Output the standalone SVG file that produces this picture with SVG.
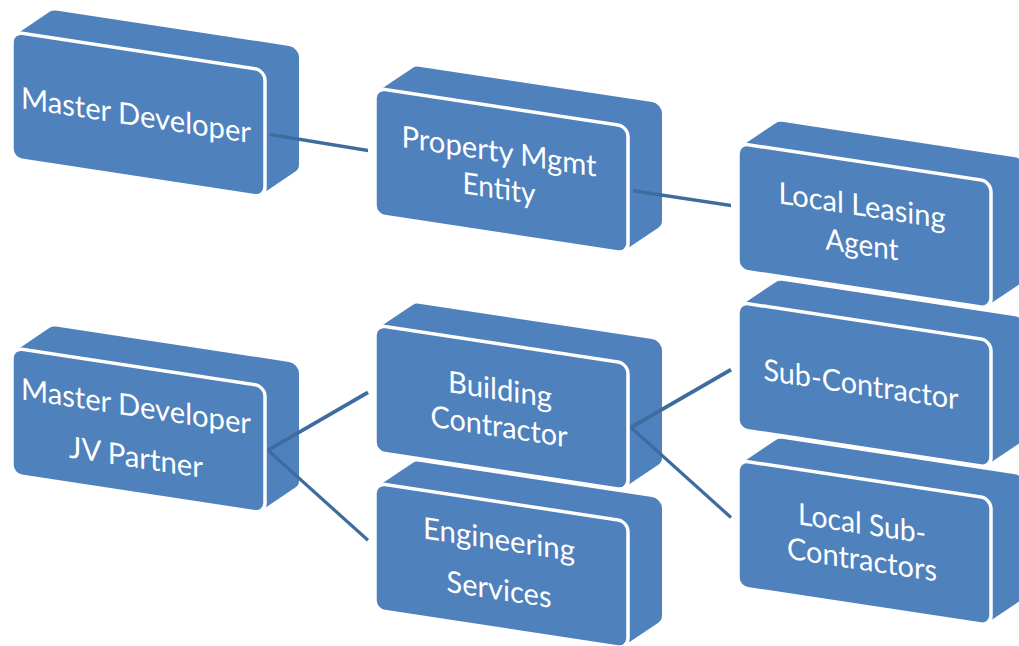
<svg xmlns="http://www.w3.org/2000/svg" xmlns:xlink="http://www.w3.org/1999/xlink" width="1019" height="646" viewBox="0 0 1019 646">
  <style>
    .hull { fill: #4F81BD; stroke: #4F81BD; stroke-width: 20; stroke-linejoin: round; }
    .face { fill: #4F81BD; stroke: #FFFFFF; stroke-width: 3.5; }
    .lbl { fill: #FFFFFF; font-family: Lato, "Open Sans", "Liberation Sans", sans-serif; font-size: 30px; text-anchor: middle; }
    .conn { stroke: #3F6C9E; stroke-width: 3.5; fill: none; }
  </style>
  <defs>
    <!-- extruded block: rounded back hull plus outlined front face -->
    <g id="block">
      <polygon class="hull" points="10,10 44,-18 277,-18 277,89 243,117 10,117"/>
      <rect class="face" x="0" y="0" width="253" height="127" rx="10" ry="10"/>
    </g>
  </defs>
  <rect width="1019" height="646" fill="#FFFFFF"/>
  <!-- whole chart sits on one slanted plane -->
  <g transform="matrix(1,0.152,0,1,0,0)">
    <g id="nodes">
      <g id="n-master-developer" transform="translate(12,30)">
        <use xlink:href="#block"/>
        <text class="lbl" x="124" y="75" textLength="230" lengthAdjust="spacingAndGlyphs">Master Developer</text>
      </g>
      <g id="n-property-mgmt" transform="translate(375,31)">
        <use xlink:href="#block"/>
        <text class="lbl" x="124" y="55" textLength="195" lengthAdjust="spacingAndGlyphs">Property Mgmt</text>
        <text class="lbl" x="124" y="92" textLength="73" lengthAdjust="spacingAndGlyphs">Entity</text>
      </g>
      <g id="n-local-sub-contractors" transform="translate(738,348)">
        <use xlink:href="#block"/>
        <text class="lbl" x="124" y="55" textLength="128" lengthAdjust="spacingAndGlyphs">Local Sub-</text>
        <text class="lbl" x="124" y="91" textLength="150" lengthAdjust="spacingAndGlyphs">Contractors</text>
      </g>
      <g id="n-sub-contractor" transform="translate(738,190)">
        <use xlink:href="#block"/>
        <text class="lbl" x="123" y="74" textLength="195" lengthAdjust="spacingAndGlyphs">Sub-Contractor</text>
      </g>
      <g id="n-local-leasing-agent" transform="translate(738,31)">
        <use xlink:href="#block"/>
        <text class="lbl" x="124" y="54" textLength="167" lengthAdjust="spacingAndGlyphs">Local Leasing</text>
        <text class="lbl" x="124" y="93" textLength="73" lengthAdjust="spacingAndGlyphs">Agent</text>
      </g>
      <g id="n-jv-partner" transform="translate(12,346)">
        <use xlink:href="#block"/>
        <text class="lbl" x="124" y="50" textLength="230" lengthAdjust="spacingAndGlyphs">Master Developer</text>
        <text class="lbl" x="124" y="101" textLength="134" lengthAdjust="spacingAndGlyphs">JV Partner</text>
      </g>
      <g id="n-engineering-services" transform="translate(375,426)">
        <use xlink:href="#block"/>
        <text class="lbl" x="124" y="48" textLength="152" lengthAdjust="spacingAndGlyphs">Engineering</text>
        <text class="lbl" x="124" y="98" textLength="105" lengthAdjust="spacingAndGlyphs">Services</text>
      </g>
      <g id="n-building-contractor" transform="translate(375,268)">
        <use xlink:href="#block"/>
        <text class="lbl" x="125" y="56" textLength="104" lengthAdjust="spacingAndGlyphs">Building</text>
        <text class="lbl" x="124" y="93" textLength="137" lengthAdjust="spacingAndGlyphs">Contractor</text>
      </g>
    </g>
    <g id="connectors">
      <line class="conn" x1="270" y1="93.5" x2="368" y2="94.5"/>
      <line class="conn" x1="633" y1="94.5" x2="731" y2="94.5"/>
      <line class="conn" x1="268" y1="409.5" x2="368" y2="336.5"/>
      <line class="conn" x1="268" y1="409.5" x2="368" y2="484.4"/>
      <line class="conn" x1="631" y1="331.5" x2="731" y2="258.5"/>
      <line class="conn" x1="631" y1="331.5" x2="731" y2="406.4"/>
    </g>
  </g>
</svg>
